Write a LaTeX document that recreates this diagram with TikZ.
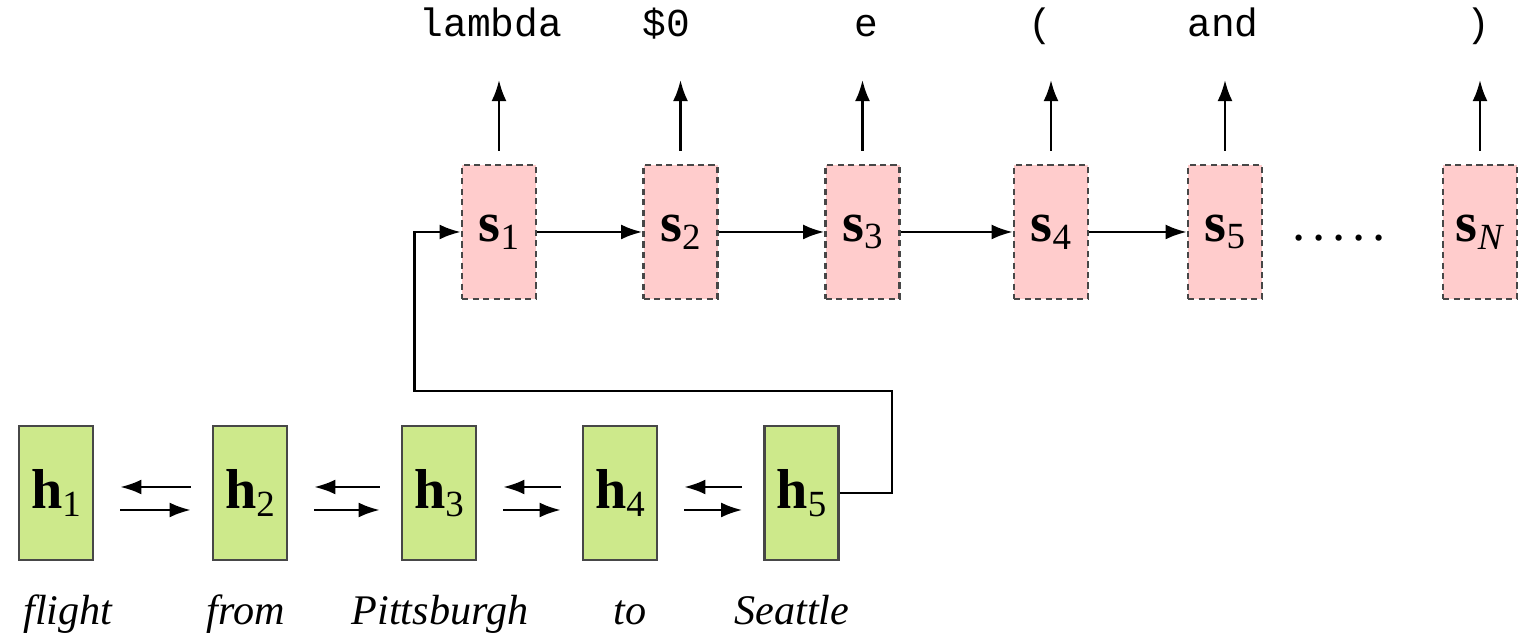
\documentclass[tikz,border=0pt]{standalone}
\usepackage{fontspec}
\setmainfont{Liberation Serif}
\setmonofont{Liberation Mono}
\usetikzlibrary{arrows.meta}

\definecolor{encgreen}{RGB}{205,233,139}
\definecolor{decpink}{RGB}{255,204,204}

% bold vector with a lowered subscript
\newcommand{\vsub}[2]{\textbf{#1}\raisebox{-0.14em}{\fontsize{21}{21}\selectfont #2}}

\begin{document}
\begin{tikzpicture}[
  enc/.style={draw=black!72, line width=1.5pt, fill=encgreen, minimum width=1.48cm,
    minimum height=2.68cm, inner sep=0pt, font=\fontsize{32}{32}\selectfont},
  dec/.style={enc, fill=decpink, dash pattern=on 3.5pt off 2.5pt},
  word/.style={anchor=base, font=\fontsize{24}{24}\selectfont\itshape},
  tok/.style={anchor=base, font=\fontsize{22.5}{22.5}\selectfont\ttfamily},
  arr/.style={-{Latex[length=12pt,width=8.5pt]}, line width=1.4pt}
]
  \useasboundingbox (0,0) rectangle (30.42,12.74);

  % Encoder
  \node[enc] (h1) at (1.12,2.88) {\vsub{h}{1}};
  \node[enc] (h2) at (5.00,2.88) {\vsub{h}{2}};
  \node[enc] (h3) at (8.78,2.88) {\vsub{h}{3}};
  \node[enc] (h4) at (12.40,2.88) {\vsub{h}{4}};
  \node[enc] (h5) at (16.03,2.88) {\vsub{h}{5}};

  % Input words
  \node[word] (w1) at (1.36,0.24) {flight};
  \node[word] (w2) at (4.92,0.24) {from};
  \node[word] (w3) at (8.80,0.24) {Pittsburgh};
  \node[word] (w4) at (12.60,0.24) {to};
  \node[word] (w5) at (15.84,0.24) {Seattle};

  % Decoder
  \node[dec] (s1) at (9.98,8.1) {\vsub{s}{1}};
  \node[dec] (s2) at (13.61,8.1) {\vsub{s}{2}};
  \node[dec] (s3) at (17.25,8.1) {\vsub{s}{3}};
  \node[dec] (s4) at (21.02,8.1) {\vsub{s}{4}};
  \node[dec] (s5) at (24.50,8.1) {\vsub{s}{5}};
  \node[dec] (sN) at (29.60,8.1) {\vsub{s}{\textit{N}}};
  \node[anchor=base, font=\fontsize{30}{30}\selectfont] (dots) at (26.78,7.92)
    {.\kern4pt.\kern4pt.\kern4pt.\kern4pt.};

  % Output tokens
  \node[tok] (t1) at (9.82,12.0) {lambda};
  \node[tok] (t2) at (13.32,12.0) {\$0};
  \node[tok] (t3) at (17.32,12.0) {e};
  \node[tok] (t4) at (20.80,12.0) {(};
  \node[tok] (t5) at (24.46,12.0) {and};
  \node[tok] (tN) at (29.56,12.0) {)};

  % Bidirectional encoder arrows
  \draw[arr] ([xshift=-0.42cm,yshift=0.12cm]h2.west) -- ([xshift=0.52cm,yshift=0.12cm]h1.east);
  \draw[arr] ([xshift=0.52cm,yshift=-0.34cm]h1.east) -- ([xshift=-0.42cm,yshift=-0.34cm]h2.west);
  \draw[arr] ([xshift=-0.42cm,yshift=0.12cm]h3.west) -- ([xshift=0.52cm,yshift=0.12cm]h2.east);
  \draw[arr] ([xshift=0.52cm,yshift=-0.34cm]h2.east) -- ([xshift=-0.42cm,yshift=-0.34cm]h3.west);
  \draw[arr] ([xshift=-0.42cm,yshift=0.12cm]h4.west) -- ([xshift=0.52cm,yshift=0.12cm]h3.east);
  \draw[arr] ([xshift=0.52cm,yshift=-0.34cm]h3.east) -- ([xshift=-0.42cm,yshift=-0.34cm]h4.west);
  \draw[arr] ([xshift=-0.42cm,yshift=0.12cm]h5.west) -- ([xshift=0.52cm,yshift=0.12cm]h4.east);
  \draw[arr] ([xshift=0.52cm,yshift=-0.34cm]h4.east) -- ([xshift=-0.42cm,yshift=-0.34cm]h5.west);

  % Encoder state into the decoder
  \draw[arr] (h5.east) -- ++(1.04,0) -- ++(0,2.04) -| ([xshift=-0.92cm]s1.west) -- (s1.west);

  % Decoder chain
  \draw[arr] (s1) -- (s2);
  \draw[arr] (s2) -- (s3);
  \draw[arr] (s3) -- (s4);
  \draw[arr] (s4) -- (s5);

  % Outputs
  \draw[arr] ([yshift=0.26cm]s1.north) -- ([yshift=-0.86cm]s1.north |- t1.base);
  \draw[arr] ([yshift=0.26cm]s2.north) -- ([yshift=-0.86cm]s2.north |- t2.base);
  \draw[arr] ([yshift=0.26cm]s3.north) -- ([yshift=-0.86cm]s3.north |- t3.base);
  \draw[arr] ([yshift=0.26cm]s4.north) -- ([yshift=-0.86cm]s4.north |- t4.base);
  \draw[arr] ([yshift=0.26cm]s5.north) -- ([yshift=-0.86cm]s5.north |- t5.base);
  \draw[arr] ([yshift=0.26cm]sN.north) -- ([yshift=-0.86cm]sN.north |- tN.base);
\end{tikzpicture}
\end{document}
